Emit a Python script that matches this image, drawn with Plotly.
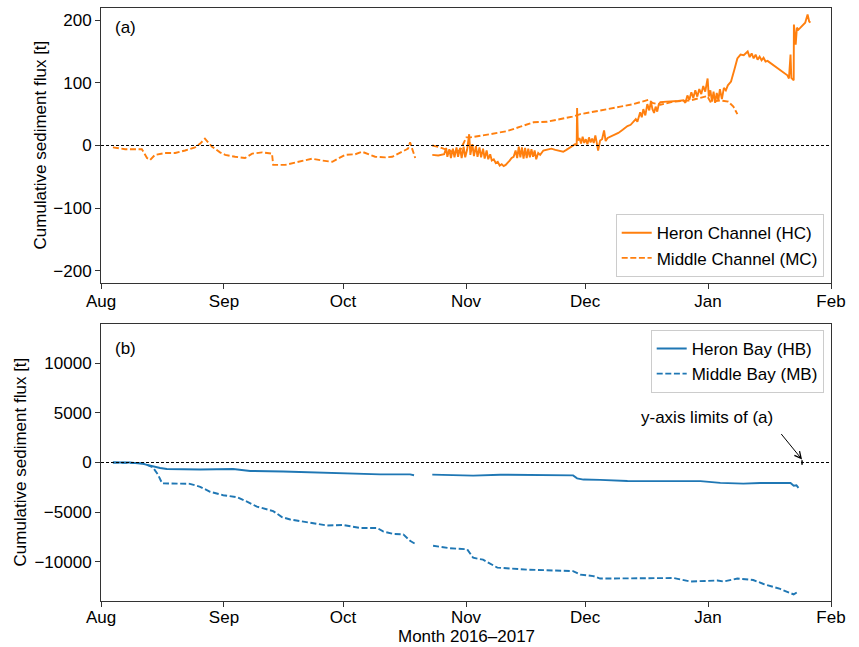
import pandas as pd
import plotly.graph_objects as go

# ---------------- data (days since 2016-08-01, cumulative flux in t) ----------------
start = pd.Timestamp("2016-08-01")

hc_days = [83.5, 85.0, 86.5, 87.0, 87.3, 87.8, 88.2, 88.7, 89.1, 89.6, 90.0, 90.5, 90.9, 91.4, 91.8,
           92.3, 92.8, 93.1, 93.6, 94.0, 94.5, 94.9, 95.4, 95.8, 96.3, 96.7, 97.2, 97.6, 98.1, 98.5,
           99.0, 99.5, 100.0, 100.5, 101.0, 101.5, 102.0, 102.5, 103.0, 103.5, 104.0, 104.5, 104.9,
           105.3, 105.7, 106.1, 106.5, 106.9, 107.3, 107.7, 108.1, 108.5, 108.9, 109.3, 109.7, 110.2,
           110.7, 111.5, 112.5, 113.5, 114.5, 115.5, 116.5, 117.3, 118.0, 118.8, 119.5, 119.9, 120.0,
           120.2, 120.6, 121.0, 121.4, 121.8, 122.2, 122.6, 123.0, 123.4, 123.8, 124.2, 124.6, 125.0,
           125.3, 125.8, 126.3, 126.8, 127.2, 127.7, 128.4, 129.3, 130.4, 131.5, 132.7, 133.5, 134.2,
           134.8, 135.2, 135.9, 136.3, 136.7, 137.2, 137.7, 138.2, 138.6, 139.0, 139.4, 139.8, 140.2,
           140.6, 141.0, 142.5, 144.0, 145.5, 146.8, 147.3, 147.8, 148.3, 148.8, 149.3, 149.8, 150.3,
           150.8, 151.3, 151.8, 152.3, 152.9, 153.2, 153.6, 154.0, 154.4, 154.8, 155.2, 155.6, 156.0,
           156.5, 157.0, 157.5, 158.0, 158.8, 159.6, 160.4, 161.2, 162.0, 163.0, 163.5, 164.0, 164.5,
           165.0, 165.5, 166.0, 166.5, 167.0, 167.5, 168.0, 169.5, 171.0, 172.5, 173.0, 173.4, 173.8,
           174.0, 174.3, 174.6, 174.65, 174.9, 175.1, 175.4, 175.8, 176.3, 176.8, 177.5, 178.1, 178.5,
           178.8]
hc_vals = [-15, -16, -14, -4, -18, -6, -20, -5, -19, -3, -18, -4, -20, -2, -19,
           -6, 18, -15, 2, -17, -1, -18, -3, -19, -5, -21, -8, -22, -14, -24,
           -22, -28, -26, -32, -30, -33, -31, -28, -24, -20, -18, -8, -20,
           -2, -19, -3, -21, -4, -20, -5, -19, -6, -18, -8, -22, -12,
           -15, -8, -6, -5, -7, -9, -10, -7, -4, -1, 2, 0, 60,
           8, 12, 3, 14, 4, 10, 2, 13, 5, 11, 4, 16, 3,
           -8, 8, 10, 24, 7, 12, 14, 17, 20, 25, 31, 33, 37,
           42, 38, 53, 45, 58, 48, 66, 56, 70, 58, 52, 62, 54,
           66, 69, 70, 70, 71, 72, 68, 80, 73, 85, 76, 88, 78,
           90, 82, 95, 86, 107, 78, 88, 70, 86, 68, 84, 72, 90,
           74, 92, 88, 96, 102, 120, 139, 145, 144, 150, 141, 147, 139,
           145, 137, 142, 136, 140, 134, 135, 128, 122, 115, 112, 107, 145,
           108, 106, 104, 193, 180, 161, 188, 185, 188, 192, 196, 209, 198,
           196]

mc_days = [3.0, 6.1, 10.3, 11.6, 12.4, 13.6, 16.1, 18.7, 21.2, 23.7, 25.0, 26.2, 27.0, 28.0, 30.0,
           31.3, 33.8, 36.3, 38.1, 40.6, 43.1, 43.4, 46.4, 49.7, 53.2, 55.7, 58.3, 61.5, 64.1, 65.8,
           69.1, 71.6, 73.4, 75.9, 77.4, 77.9, 78.7, 79.2, None,
           83.5, 85.5, 88.5, 90.5, 92.1, 93.1, 98.1, 102.4, 105.7, 109.0, 112.5, 115.8, 118.8, 120.8,
           124.6, 127.7, 130.9, 134.2, 138.0, 139.0, 141.0, 144.3, 148.6, 152.8, 153.6, 156.1, 158.1,
           159.4, 160.4]
mc_vals = [-3, -6, -6, -20, -23, -15, -12, -12, -8, -3, 3, 11, 5, -2, -11,
           -15, -18, -20, -13, -11, -13, -31, -31, -26, -21, -24, -26, -15, -14, -10,
           -18, -19, -18, -10, -5, 5, -11, -20, None,
           0, -3, -10, -8, 13, 13, 18, 23, 30, 37, 38, 42, 46, 50,
           54, 58, 62, 66, 73, 68, 65, 70, 72, 79, 70, 72, 70,
           62, 50]

hb_days = [3.0, 7.3, 10.6, 13.1, 14.9, 16.6, 25.0, 33.3, 37.6, 45.9, 54.5, 62.8, 70.4, 77.9, 78.9, None,
           83.5, 92.3, 93.8, 100.6, 110.7, 119.0, 120.0, 121.6, 125.8, 132.7, 141.0, 151.1, 156.1,
           161.2, 161.9, 166.2, 173.8, 174.6, 175.3, 175.8]
hb_vals = [0, 0, -140, -400, -550, -650, -700, -650, -850, -900, -1000, -1150, -1200, -1200, -1280, None,
           -1220, -1250, -1320, -1230, -1260, -1300, -1600, -1720, -1750, -1860, -1880, -1880, -2050,
           -2070, -2130, -2070, -2070, -2350, -2300, -2550]

mb_days = [3.0, 7.3, 10.6, 13.1, 14.4, 15.4, 22.4, 25.0, 27.5, 30.8, 34.3, 36.8, 39.3, 43.4, 45.6,
           47.7, 52.0, 57.0, 61.0, 65.3, 69.6, 71.1, 73.6, 76.2, 77.9, 79.2, None,
           83.7, 88.0, 92.3, 93.8, 96.3, 99.9, 107.4, 119.0, 120.8, 124.1, 125.8, 144.3, 148.6,
           155.4, 156.9, 160.4, 164.4, 167.0, 171.2, 174.6, 175.6]
mb_vals = [0, -20, -70, -500, -1250, -2100, -2150, -2450, -2950, -3300, -3500, -3950, -4450, -4900, -5500,
           -5750, -6000, -6350, -6300, -6600, -6600, -6950, -7200, -7250, -7900, -8200, None,
           -8400, -8650, -8750, -9600, -9800, -10600, -10800, -10950, -11300, -11450, -11700, -11650, -12000,
           -11900, -12000, -11700, -11850, -12250, -12750, -13300, -13050]

month_ticks = ["2016-08-01", "2016-09-01", "2016-10-01", "2016-11-01", "2016-12-01", "2017-01-01", "2017-02-01"]
month_labels = ["Aug", "Sep", "Oct", "Nov", "Dec", "Jan", "Feb"]
ticks_a = [-200, -100, 0, 100, 200]
ticks_b = [-10000, -5000, 0, 5000, 10000]


def to_dates(days):
    return [None if d is None else start + pd.Timedelta(days=d) for d in days]


def sym_limit(*series):
    m = max(abs(v) for s in series for v in s if v is not None)
    return 1.05 * m


lim_a = sym_limit(hc_vals, mc_vals)
lim_b = sym_limit(hb_vals, mb_vals)

ORANGE = "#ff7f0e"
BLUE = "#1f77b4"
FONT = "Liberation Sans, Arial, Helvetica, sans-serif"
FS = 17

fig = go.Figure()
fig.add_trace(go.Scatter(x=to_dates(hc_days), y=hc_vals, mode="lines", name="Heron Channel (HC)",
                         line=dict(color=ORANGE, width=1.9), xaxis="x", yaxis="y", legend="legend"))
fig.add_trace(go.Scatter(x=to_dates(mc_days), y=mc_vals, mode="lines", name="Middle Channel (MC)",
                         line=dict(color=ORANGE, width=1.9, dash="6px,2.6px"), xaxis="x", yaxis="y",
                         legend="legend"))
fig.add_trace(go.Scatter(x=to_dates(hb_days), y=hb_vals, mode="lines", name="Heron Bay (HB)",
                         line=dict(color=BLUE, width=1.9), xaxis="x2", yaxis="y2", legend="legend2"))
fig.add_trace(go.Scatter(x=to_dates(mb_days), y=mb_vals, mode="lines", name="Middle Bay (MB)",
                         line=dict(color=BLUE, width=1.9, dash="6px,2.6px"), xaxis="x2", yaxis="y2",
                         legend="legend2"))

# marker showing the y-axis limits of panel (a) on panel (b)
mark_day = 176.7
fig.add_trace(go.Scatter(x=to_dates([mark_day, mark_day]), y=[-lim_a, lim_a], mode="lines",
                         line=dict(color="black", width=1.5), showlegend=False, xaxis="x2", yaxis="y2"))

axis_common = dict(showline=True, linecolor="#333", linewidth=1, mirror=True, ticks="outside",
                   tickcolor="#333", showgrid=False, zeroline=False, ticklen=5,
                   tickfont=dict(size=FS, color="black"))

xr = [start, pd.Timestamp("2017-02-01")]
fig.update_layout(
    width=859, height=647,
    margin=dict(l=101, r=28, t=8, b=46),
    paper_bgcolor="white", plot_bgcolor="white",
    font=dict(family=FONT, size=FS, color="black"),
    xaxis=dict(domain=[0, 1], anchor="y", range=xr, tickvals=month_ticks, ticktext=month_labels,
               ticklabelstandoff=-2, **axis_common),
    yaxis=dict(domain=[0.5363, 1], anchor="x", range=[-lim_a, lim_a], tickvals=ticks_a,
               tickformat="d", **axis_common),
    xaxis2=dict(domain=[0, 1], anchor="y2", range=xr, tickvals=month_ticks, ticktext=month_labels,
                ticklabelstandoff=-4, **axis_common),
    yaxis2=dict(domain=[0, 0.4671], anchor="x2", range=[-lim_b, lim_b], tickvals=ticks_b,
                tickformat="d", **axis_common),
    legend=dict(x=0.99, xanchor="right", y=0.546, yanchor="bottom", bgcolor="white",
                bordercolor="#cccccc", borderwidth=1, font=dict(size=FS), tracegroupgap=0,
                itemwidth=30),
    legend2=dict(x=0.99, xanchor="right", y=0.457, yanchor="top", bgcolor="white",
                 bordercolor="#cccccc", borderwidth=1, font=dict(size=FS), tracegroupgap=0,
                 itemwidth=30),
    showlegend=True,
)

# zero lines
for yref, xref in (("y", "x domain"), ("y2", "x2 domain")):
    fig.add_shape(type="line", xref=xref, yref=yref, x0=0, x1=1, y0=0, y1=0,
                  line=dict(color="black", width=1, dash="3px,2px"), layer="above")

# panel labels
fig.add_annotation(text="(a)", xref="x domain", yref="y domain", x=0.016, y=0.93,
                   xanchor="left", yanchor="middle", showarrow=False, font=dict(size=FS))
fig.add_annotation(text="(b)", xref="x2 domain", yref="y2 domain", x=0.016, y=0.91,
                   xanchor="left", yanchor="middle", showarrow=False, font=dict(size=FS))

# y-axis titles
fig.add_annotation(text="Cumulative sediment flux [t]", xref="paper", yref="paper",
                   x=(40 - 101) / 730, y=(601 - 145.5) / 593, textangle=-90, showarrow=False,
                   xanchor="center", yanchor="middle", font=dict(size=FS))
fig.add_annotation(text="Cumulative sediment flux [t]", xref="paper", yref="paper",
                   x=(20 - 101) / 730, y=(601 - 462.5) / 593, textangle=-90, showarrow=False,
                   xanchor="center", yanchor="middle", font=dict(size=FS))
# x-axis title
fig.add_annotation(text="Month 2016–2017", xref="paper", yref="paper", x=0.5, y=(601 - 636) / 593,
                   showarrow=False, xanchor="center", yanchor="middle", font=dict(size=FS))

# y-axis limits annotation
fig.add_annotation(text="y-axis limits of (a)", xref="x2", yref="y2",
                   x=start + pd.Timedelta(days=152.8), y=4490, showarrow=False,
                   xanchor="center", yanchor="middle", font=dict(size=FS))
fig.add_annotation(text="", xref="x2", yref="y2", x=start + pd.Timedelta(days=mark_day), y=300,
                   showarrow=True, ax=-22, ay=-27, arrowhead=5, arrowsize=1.3, arrowwidth=1,
                   arrowcolor="black")

# remove the default 8px page margin so the 859x647 figure fills the window exactly
fig.write_html("out.html", config={"displayModeBar": False},
               post_script="document.body.style.margin='0';")
